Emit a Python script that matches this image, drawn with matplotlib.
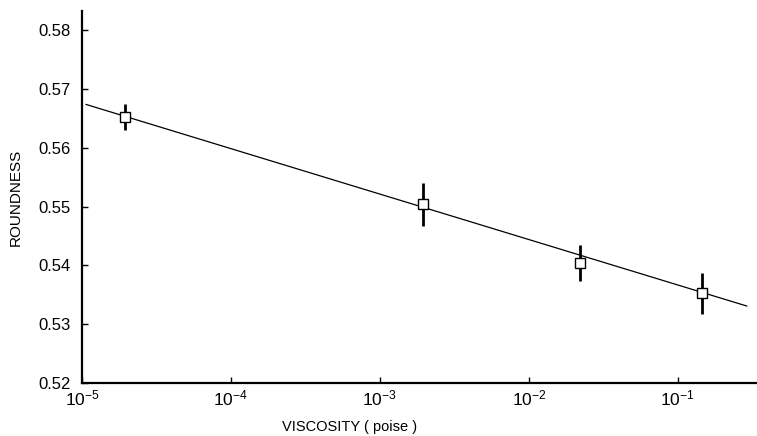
import matplotlib
matplotlib.use("Agg")
import matplotlib.pyplot as plt
from matplotlib.ticker import FixedLocator, NullLocator, FixedFormatter

# Data
viscosity = [1.95e-5, 1.95e-3, 2.2e-2, 1.45e-1]
roundness = [0.5652, 0.5504, 0.5404, 0.5353]
err = [0.0022, 0.0036, 0.0030, 0.0035]
fit_x = [1.065e-5, 0.29]
fit_y = [0.5674, 0.5331]
xtick_vals = [1e-5, 1e-4, 1e-3, 1e-2, 1e-1]
xtick_labels = [r"$10^{-5}$", r"$10^{-4}$", r"$10^{-3}$", r"$10^{-2}$", r"$10^{-1}$"]
ytick_vals = [0.52, 0.53, 0.54, 0.55, 0.56, 0.57, 0.58]
ytick_labels = ["0.52", "0.53", "0.54", "0.55", "0.56", "0.57", "0.58"]

plt.rcParams["font.family"] = ["Liberation Sans", "DejaVu Sans"]
plt.rcParams["mathtext.default"] = "regular"

fig = plt.figure(figsize=(7.57, 4.36), dpi=100)
ax = fig.add_axes([82/757, 53/436, 675/757, 372/436])

ax.plot(fit_x, fit_y, color="black", lw=0.9, zorder=2)
ax.errorbar(viscosity, roundness, yerr=err, fmt="s", ms=6.5, mfc="white",
            mec="black", mew=1.0, ecolor="black", elinewidth=2.0, capsize=0, zorder=3)

ax.set_xscale("log")
ax.set_xlim(1e-5, 0.34)
ax.set_ylim(0.52, 0.5833)
ax.xaxis.set_major_locator(FixedLocator(xtick_vals))
ax.xaxis.set_major_formatter(FixedFormatter(xtick_labels))
ax.xaxis.set_minor_locator(NullLocator())
ax.set_yticks(ytick_vals)
ax.set_yticklabels(ytick_labels)

for s in ["top", "right"]:
    ax.spines[s].set_visible(False)
for s in ["left", "bottom"]:
    ax.spines[s].set_linewidth(1.6)

ax.tick_params(axis="y", direction="in", length=4, width=1.0, labelsize=12, pad=8)
ax.tick_params(axis="x", direction="in", length=4, width=1.0, labelsize=12.5, pad=4)

ax.set_xlabel("VISCOSITY ( poise )", fontsize=10.5)
ax.xaxis.set_label_coords((350-82)/675, -0.1)
ax.set_ylabel("ROUNDNESS", fontsize=11)
ax.yaxis.set_label_coords((23-82)/675, 0.5)

fig.savefig("out.png", dpi=100)
